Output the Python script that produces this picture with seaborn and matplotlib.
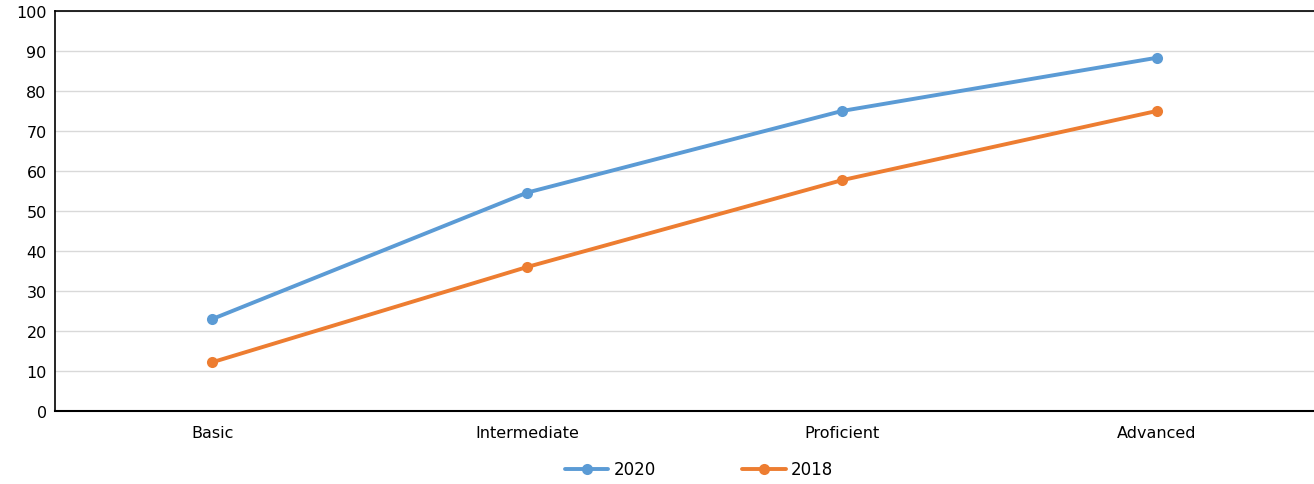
import matplotlib
matplotlib.use("Agg")
import matplotlib.pyplot as plt
import seaborn as sns
import pandas as pd

# data
levels = ["Basic", "Intermediate", "Proficient", "Advanced"]
y2020 = [23, 54.6, 75, 88.3]
y2018 = [12.2, 36, 57.7, 75]
years = ["2020", "2018"]
colors = ["#5B9BD5", "#ED7D31"]

df = pd.DataFrame({
    "Level": levels * 2,
    "Value": y2020 + y2018,
    "Year": [years[0]] * 4 + [years[1]] * 4,
})

sns.set_theme(style="white")
plt.rcParams['font.family'] = ['DejaVu Sans']
plt.rcParams['text.color'] = 'black'

fig = plt.figure(figsize=(13.14, 4.85), dpi=100)
ax = fig.add_axes([55 / 1314, 1 - 412 / 485, 1 - 55 / 1314, 400 / 485])

sns.lineplot(data=df, x="Level", y="Value", hue="Year", hue_order=years,
             palette=colors, marker="o", markersize=8, markeredgewidth=0,
             linewidth=2.8, sort=False, ax=ax, legend=True)

ax.set_xlim(-0.5, 3.5)
ax.set_ylim(0, 100)
ax.set_yticks(range(0, 101, 10))
ax.yaxis.grid(True, color="#D9D9D9", linewidth=1)
ax.set_axisbelow(True)
ax.set_xlabel("")
ax.set_ylabel("")
ax.tick_params(axis="both", labelsize=11.5, colors="black", length=0, pad=6)
ax.tick_params(axis="x", pad=10)

for s in ["left", "bottom", "top"]:
    ax.spines[s].set_color("black")
ax.spines["left"].set_linewidth(1.2)
ax.spines["bottom"].set_linewidth(1.5)
ax.spines["top"].set_linewidth(1.2)
ax.spines["right"].set_visible(False)

handles, labels = ax.get_legend_handles_labels()
ax.get_legend().remove()
leg = fig.legend(handles, labels, loc="center", bbox_to_anchor=(0.532, 0.03), ncol=2,
                 frameon=False, fontsize=12, columnspacing=5.2, handlelength=2.6,
                 handletextpad=0.3)
for t in leg.get_texts():
    t.set_color("black")

fig.savefig("out.png", dpi=100)
